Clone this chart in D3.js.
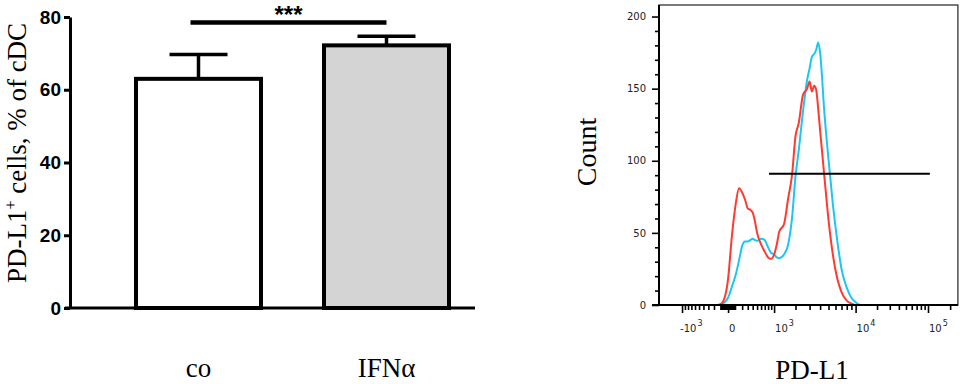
<!DOCTYPE html>
<html>
<head>
<meta charset="utf-8">
<script src="https://cdn.jsdelivr.net/npm/d3@7"></script>
<style>
  body { margin: 0; background: #fff; }
  svg { display: block; }
</style>
</head>
<body>
<svg id="chart" width="963" height="384"></svg>
<script>
// ---- bar panel data
const groups = ["co", "IFNα"];
const means = [63.0, 72.2];
const sems = [6.7, 2.5];
const barFills = ["#ffffff", "#d4d4d4"];
const barTicks = [0, 20, 40, 60, 80];
const sigLevel = 78.5;

// ---- histogram panel data (PD-L1 intensity vs count)
const intensity = [-200, -150, -100, -50, 0, 50, 100, 150, 200, 250, 300, 350, 400, 450, 500,
  600, 700, 800, 900, 1000, 1100, 1200, 1400, 1600, 1800, 2000, 2200, 2500, 2800, 3000,
  3200, 3400, 3600, 3800, 4000, 4500, 5000, 5600, 6300, 7000, 8000, 9000, 10000, 11000, 12000];
const countRed = [0, 0, 0.5, 4, 18, 49, 70, 81, 78, 73, 67, 66, 64, 58, 50,
  42, 37, 33, 32, 35, 42, 51, 56, 74, 90, 117, 126, 146, 150, 155,
  148, 152, 149, 136, 121, 88, 59, 35, 18, 9, 3, 1, 0, 0, 0];
const countCyan = [0, 0, 0, 1.5, 5, 13, 21, 31, 41, 44, 44, 45, 46, 45, 44.5,
  46, 45, 40, 36, 35, 33, 32.5, 35, 42, 60, 89, 107, 135, 156, 164,
  172, 174, 177, 182, 175, 132, 101, 70, 44, 25, 12, 5, 2, 0.5, 0];
const countTicks = [0, 50, 100, 150, 200];
const decadeTicks = [-1000, 0, 1000, 10000, 100000];
const decadeLabels = [["-10", "3"], ["0", ""], ["10", "3"], ["10", "4"], ["10", "5"]];
const gate = [830, 106000];
const gateCount = 91;

const svg = d3.select("#chart");
const serif = "'Liberation Serif', 'Times New Roman', serif";

// ================= bar chart =================
const yBar = d3.scaleLinear().domain([0, 80]).range([308, 17]);
const xBar = d3.scalePoint().domain(groups).range([104.5, 480.5]).padding(0.5);
const barW = 125, capW = 58;

const gBar = svg.append("g");

gBar.selectAll("rect.bar")
  .data(groups)
  .enter().append("rect")
  .attr("class", "bar")
  .attr("x", d => xBar(d) - barW / 2)
  .attr("y", (d, i) => yBar(means[i]))
  .attr("width", barW)
  .attr("height", (d, i) => yBar(0) - yBar(means[i]))
  .attr("fill", (d, i) => barFills[i])
  .attr("stroke", "#000")
  .attr("stroke-width", 4);

// error bars
groups.forEach((g, i) => {
  const x = xBar(g);
  gBar.append("line")
    .attr("x1", x).attr("x2", x)
    .attr("y1", yBar(means[i])).attr("y2", yBar(means[i] + sems[i]))
    .attr("stroke", "#000").attr("stroke-width", 3.5);
  gBar.append("line")
    .attr("x1", x - capW / 2).attr("x2", x + capW / 2)
    .attr("y1", yBar(means[i] + sems[i])).attr("y2", yBar(means[i] + sems[i]))
    .attr("stroke", "#000").attr("stroke-width", 3.5);
});

// y axis
const yAxisBar = gBar.append("g")
  .attr("transform", "translate(70,0)")
  .call(d3.axisLeft(yBar).tickValues(barTicks).tickSize(6).tickSizeOuter(0).tickPadding(3));
yAxisBar.select(".domain").attr("stroke-width", 3);
yAxisBar.selectAll(".tick line").attr("stroke-width", 3);
yAxisBar.selectAll(".tick text")
  .attr("font-family", "'Liberation Sans', Arial, sans-serif")
  .attr("font-weight", "bold")
  .attr("font-size", 19)
  .attr("fill", "#000");

// x axis line
gBar.append("line")
  .attr("x1", 65).attr("x2", 475)
  .attr("y1", yBar(0)).attr("y2", yBar(0))
  .attr("stroke", "#000").attr("stroke-width", 3);

// significance
gBar.append("line")
  .attr("x1", xBar(groups[0]) - 8).attr("x2", xBar(groups[1]))
  .attr("y1", yBar(sigLevel)).attr("y2", yBar(sigLevel))
  .attr("stroke", "#000").attr("stroke-width", 4.5);
gBar.append("text")
  .attr("x", (xBar(groups[0]) - 8 + xBar(groups[1])) / 2)
  .attr("y", 23)
  .attr("text-anchor", "middle")
  .attr("font-family", "'Liberation Sans', Arial, sans-serif")
  .attr("font-weight", "bold")
  .attr("font-size", 24)
  .text("***");

// category labels
gBar.selectAll("text.cat")
  .data(groups)
  .enter().append("text")
  .attr("class", "cat")
  .attr("x", d => xBar(d))
  .attr("y", 377)
  .attr("text-anchor", "middle")
  .attr("font-family", serif)
  .attr("font-size", 27)
  .text(d => d);

// y label
const yLab = gBar.append("text")
  .attr("transform", "translate(26,153) rotate(-90)")
  .attr("text-anchor", "middle")
  .attr("font-family", serif)
  .attr("font-size", 27);
yLab.append("tspan").text("PD-L1");
yLab.append("tspan").attr("dy", -10).attr("font-size", 16).text("+");
yLab.append("tspan").attr("dy", 10).text(" cells, % of cDC");

// ================= histogram =================
const xH = d3.scaleSymlog().constant(500)
  .domain([-2100, 10000, 100000])
  .range([659, 855.6, 928]);
const yH = d3.scaleLinear().domain([0, 208]).range([305, 5]);
const frameRight = xH(255000);

const gH = svg.append("g");

// frame
gH.append("rect")
  .attr("x", xH(-2100)).attr("y", yH(208))
  .attr("width", frameRight - xH(-2100)).attr("height", yH(0) - yH(208))
  .attr("fill", "none").attr("stroke", "#333").attr("stroke-width", 1.3);

// shadow filter for gate
const defs = svg.append("defs");
defs.append("filter").attr("id", "blur")
  .append("feGaussianBlur").attr("stdDeviation", 1.2);

// curves
const line = d3.line()
  .x(d => xH(d[0]))
  .y(d => yH(d[1]))
  .curve(d3.curveMonotoneX);

gH.append("path")
  .datum(intensity.map((v, i) => [v, countCyan[i]]))
  .attr("d", line)
  .attr("fill", "none")
  .attr("stroke", "#1cc6f2")
  .attr("stroke-width", 2);
gH.append("path")
  .datum(intensity.map((v, i) => [v, countRed[i]]))
  .attr("d", line)
  .attr("fill", "none")
  .attr("stroke", "#ff3a30")
  .attr("stroke-width", 2);

// gate
gH.append("line")
  .attr("x1", xH(gate[0])).attr("x2", xH(gate[1]))
  .attr("y1", yH(gateCount) + 3).attr("y2", yH(gateCount) + 3)
  .attr("stroke", "#bbb").attr("stroke-width", 3)
  .attr("filter", "url(#blur)");
gH.append("line")
  .attr("x1", xH(gate[0])).attr("x2", xH(gate[1]))
  .attr("y1", yH(gateCount)).attr("y2", yH(gateCount))
  .attr("stroke", "#000").attr("stroke-width", 2);

// y axis (major + minor)
const minorCounts = d3.range(0, 201, 10).filter(v => v % 50 !== 0);
const yMinor = gH.append("g").attr("transform", "translate(659,0)")
  .call(d3.axisLeft(yH).tickValues(minorCounts).tickSize(4).tickFormat(""));
const yMajor = gH.append("g").attr("transform", "translate(659,0)")
  .call(d3.axisLeft(yH).tickValues(countTicks).tickSize(7).tickPadding(6));
[yMinor, yMajor].forEach(a => {
  a.select(".domain").remove();
  a.selectAll(".tick line").attr("stroke", "#000").attr("stroke-width", 1.6);
});
yMajor.selectAll(".tick text")
  .attr("font-family", "'DejaVu Sans', sans-serif")
  .attr("font-size", 10)
  .attr("fill", "#222");

// x axis (major + minor)
const minorInt = [].concat(
  d3.range(-900, -99, 100),
  d3.range(-90, 91, 10),
  d3.range(200, 901, 100),
  d3.range(2000, 9001, 1000),
  d3.range(20000, 90001, 10000),
  [200000]
).filter(v => v !== 0);
const xMinor = gH.append("g").attr("transform", "translate(0,305)")
  .call(d3.axisBottom(xH).tickValues(minorInt).tickSize(5).tickFormat(""));
const xMajor = gH.append("g").attr("transform", "translate(0,305)")
  .call(d3.axisBottom(xH).tickValues(decadeTicks).tickSize(8).tickFormat(""));
[xMinor, xMajor].forEach(a => {
  a.select(".domain").remove();
  a.selectAll(".tick line").attr("stroke", "#000").attr("stroke-width", 1.6);
});

// axis lines
gH.append("line").attr("x1", 659).attr("x2", 659).attr("y1", yH(208)).attr("y2", yH(0))
  .attr("stroke", "#000").attr("stroke-width", 2);
gH.append("line").attr("x1", 652).attr("x2", frameRight).attr("y1", yH(0)).attr("y2", yH(0))
  .attr("stroke", "#000").attr("stroke-width", 2);

// decade labels
decadeTicks.forEach((v, i) => {
  const t = gH.append("text")
    .attr("x", xH(v) + (v < 0 ? -2 : 1))
    .attr("y", 332)
    .attr("font-family", "'DejaVu Sans', sans-serif")
    .attr("font-size", 10)
    .attr("fill", "#222");
  t.append("tspan").text(decadeLabels[i][0]);
  if (decadeLabels[i][1]) {
    t.append("tspan").attr("dx", 1).attr("dy", -6).attr("font-size", 8).text(decadeLabels[i][1]);
  }
});

// axis titles
gH.append("text")
  .attr("transform", "translate(596,152) rotate(-90)")
  .attr("text-anchor", "middle")
  .attr("font-family", serif)
  .attr("font-size", 28)
  .text("Count");
gH.append("text")
  .attr("x", 812).attr("y", 379)
  .attr("text-anchor", "middle")
  .attr("font-family", serif)
  .attr("font-size", 27)
  .text("PD-L1");
</script>
</body>
</html>
